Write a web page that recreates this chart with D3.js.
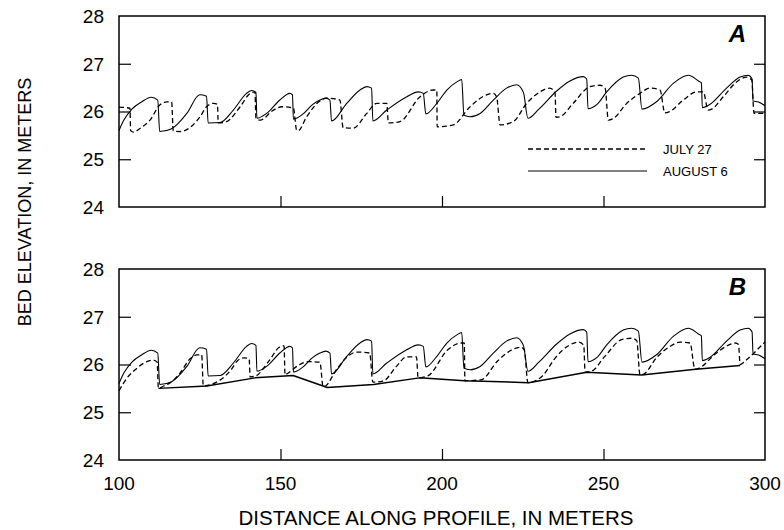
<!DOCTYPE html>
<html>
<head>
<meta charset="utf-8">
<script src="https://cdn.jsdelivr.net/npm/d3@7"></script>
<style>
  html, body { margin: 0; padding: 0; background: #fff; }
  svg { display: block; }
  text { font-family: "Liberation Sans", Arial, Helvetica, sans-serif; fill: #000; }
</style>
</head>
<body>
<svg id="chart" width="784" height="530"></svg>
<script>
// ---------------- DATA ----------------
const xTicks = [100, 150, 200, 250, 300];
const yTicks = [24, 25, 26, 27, 28];
const panelLabels = ["A", "B"];
const legendLabels = ["JULY 27", "AUGUST 6"];

// August 6 profile (solid), same survey in both panels: [distance m, elevation m]
const aug6 = [
  [100, 25.6], [101.5, 25.82], [104, 26.05], [107, 26.2], [110, 26.3], [112, 26.24], [112.6, 25.58],
  [116.3, 25.64], [121, 25.96], [125, 26.35], [127.1, 26.32], [127.6, 25.76],
  [131.3, 25.77], [135.4, 26.03], [139.5, 26.38], [141.1, 26.44], [142.4, 26.4], [142.7, 25.86],
  [145.7, 25.96], [149.8, 26.24], [152.9, 26.38], [153.7, 26.35], [154.0, 25.84],
  [157, 25.95], [160, 26.15], [162.2, 26.24], [164, 26.28], [165.3, 26.24], [165.8, 25.8],
  [170.5, 26.17], [174.6, 26.45], [176.7, 26.52], [178.2, 26.49], [178.6, 25.8],
  [182.9, 26.03], [189.1, 26.31], [192.7, 26.41], [194.2, 26.38], [195.0, 25.95],
  [198.4, 26.17], [201.5, 26.45], [204.6, 26.62], [206.1, 26.67], [206.8, 25.92],
  [208.7, 25.89], [211.8, 25.96], [215.9, 26.24], [220.0, 26.49], [223.1, 26.56], [225.2, 26.4], [226.6, 25.86],
  [230, 26.05], [235.5, 26.43], [239.6, 26.64], [243.7, 26.73], [244.8, 26.68], [245.2, 26.06],
  [248, 26.15], [251.0, 26.41], [256.1, 26.72], [258.7, 26.76], [260.8, 26.7], [261.9, 26.05],
  [266.5, 26.21], [271.6, 26.59], [276.3, 26.76], [279.4, 26.64], [280.3, 26.6], [280.6, 26.08],
  [283, 26.15], [288.1, 26.49], [292.3, 26.72], [294.8, 26.76], [296, 26.68], [296.3, 26.22], [298, 26.2], [300, 26.12]
];

// July 27 profile (dashed), panel A
const jul27A = [
  [100, 26.09], [103.4, 26.07], [103.6, 25.6], [104.5, 25.57], [106.6, 25.65], [109.6, 25.82], [112.7, 26.14], [114.8, 26.2], [116.3, 26.2], [116.8, 25.59],
  [118.9, 25.58], [125.1, 25.89], [127.1, 26.1], [129.2, 26.17], [130.5, 26.15], [130.7, 25.76],
  [133.3, 25.79], [137.5, 26.1], [140.6, 26.38], [142.1, 26.41], [142.4, 25.86],
  [143.7, 25.82], [147.8, 26.03], [150.4, 26.1], [154, 26.07], [155.0, 25.61],
  [155.5, 25.6], [158.1, 25.89], [162.2, 26.22], [164.3, 26.28], [168.4, 26.24], [169.4, 25.66],
  [172.5, 25.65], [176.7, 25.96], [179.8, 26.17], [182.9, 26.17], [183.4, 25.76],
  [187, 25.79], [193.2, 26.31], [197.3, 26.45], [198.4, 26.45], [198.5, 25.68],
  [203.5, 25.72], [208.7, 26.1], [213.8, 26.35], [215.9, 26.38], [216.9, 26.31], [218, 25.72],
  [222.1, 25.79], [226.2, 26.17], [230.3, 26.41], [233.4, 26.49], [235, 26.38], [235.3, 25.88],
  [236.5, 25.89], [240.6, 26.17], [245.8, 26.52], [248.9, 26.55], [250.5, 26.49], [251.5, 25.82],
  [253, 25.85], [257.2, 26.17], [261.3, 26.38], [264.4, 26.49], [267.5, 26.45], [269, 25.97],
  [270.5, 26.0], [274.7, 26.24], [278.9, 26.41], [280.9, 26.41], [282.4, 26.03],
  [283.5, 26.05], [287.1, 26.31], [291.2, 26.62], [294.3, 26.72], [295.9, 26.66], [296.6, 25.96], [300, 25.96]
];

// July 27 profile (dashed), panel B
const jul27B = [
  [100, 25.45], [102.4, 25.71], [105.5, 25.92], [108.6, 26.06], [110.6, 26.09], [111.8, 26.05], [112.2, 25.5],
  [113.8, 25.55], [115.9, 25.62], [118.9, 25.82], [122, 26.12], [124.1, 26.2], [125.6, 26.2], [126.1, 25.55],
  [128.5, 25.58], [134.7, 25.89], [136.7, 26.08], [138.8, 26.14], [140.3, 26.12], [140.6, 25.74],
  [142.3, 25.76], [146.5, 26.08], [149.6, 26.36], [151.1, 26.39], [151.4, 25.78],
  [151.9, 25.8], [156, 26.0], [158.6, 26.06], [162.2, 26.05], [163.2, 25.53],
  [164, 25.55], [167.3, 25.89], [171.4, 26.2], [173.5, 26.26], [177.6, 26.24], [178.6, 25.63],
  [181.7, 25.65], [185.9, 25.96], [189, 26.16], [192.1, 26.16], [192.6, 25.72],
  [195.6, 25.76], [201.8, 26.31], [205.9, 26.45], [206.9, 26.45], [207.1, 25.66],
  [212.1, 25.68], [217.3, 26.08], [222.4, 26.33], [224.5, 26.36], [225.5, 26.3], [226.6, 25.62],
  [231.1, 25.76], [235.2, 26.15], [239.3, 26.4], [242.4, 26.47], [243.9, 26.4], [244.3, 25.84],
  [246.3, 25.86], [250.4, 26.17], [255.6, 26.52], [258.7, 26.55], [260.3, 26.5], [261.3, 25.78],
  [262.5, 25.8], [266.5, 26.15], [270.6, 26.38], [273.7, 26.47], [276.8, 26.45], [278.3, 25.9],
  [279.5, 25.92], [284.6, 26.22], [288.8, 26.41], [290.8, 26.45], [291.8, 26.42], [292.3, 26.0],
  [294.3, 26.1], [298.5, 26.37], [300, 26.47]
];

// Trough line (panel B)
const troughB = [
  [112.2, 25.5], [127.2, 25.55], [142.1, 25.72], [153.9, 25.77], [164.5, 25.52], [178.8, 25.58],
  [193, 25.72], [207, 25.66], [226.8, 25.62], [244.8, 25.84], [261.8, 25.78], [278.5, 25.9], [292.3, 25.98]
];

// ---------------- LAYOUT ----------------
const svg = d3.select("#chart");
const xLeft = 119, xRight = 765;
const panels = [
  { top: 16, bottom: 207, label: panelLabels[0], series: [{ d: jul27A, dash: true }, { d: aug6, dash: false }], legend: true, xlabels: false },
  { top: 269, bottom: 460, label: panelLabels[1], series: [{ d: jul27B, dash: true }, { d: aug6, dash: false }, { d: troughB, dash: false, w: 1.5, straight: true }], legend: false, xlabels: true }
];

const x = d3.scaleLinear().domain([100, 300]).range([xLeft, xRight]);

panels.forEach(p => {
  const y = d3.scaleLinear().domain([24, 28]).range([p.bottom, p.top]);
  const g = svg.append("g");

  // lines
  p.series.forEach(s => {
    const line = d3.line().x(d => x(d[0])).y(d => y(d[1]))
      .curve(s.straight ? d3.curveLinear : d3.curveMonotoneX);
    g.append("path").datum(s.d)
      .attr("d", line)
      .attr("fill", "none")
      .attr("stroke", "#000")
      .attr("stroke-width", s.w || (s.dash ? 1.3 : 1.1))
      .attr("stroke-dasharray", s.dash ? "5,3" : null)
      .attr("stroke-linejoin", "round");
  });

  // left/right inner ticks
  const left = g.append("g").attr("transform", `translate(${xLeft},0)`)
    .call(d3.axisRight(y).tickValues(yTicks.slice(1, 4)).tickSize(12).tickFormat(""));
  left.select(".domain").remove();
  left.selectAll("line").attr("stroke", "#000").attr("stroke-width", 1.2);
  const right = g.append("g").attr("transform", `translate(${xRight},0)`)
    .call(d3.axisLeft(y).tickValues(yTicks.slice(1, 4)).tickSize(11).tickFormat(""));
  right.select(".domain").remove();
  right.selectAll("line").attr("stroke", "#000").attr("stroke-width", 1.2);

  // y tick labels
  g.selectAll("text.ylab").data(yTicks).enter().append("text")
    .attr("class", "ylab")
    .attr("x", xLeft - 15).attr("y", d => y(d))
    .attr("dy", "0.36em")
    .attr("text-anchor", "end")
    .style("font-size", "19px")
    .text(d => d);

  // bottom inner ticks
  const bot = g.append("g").attr("transform", `translate(0,${p.bottom})`)
    .call(d3.axisTop(x).tickValues(xTicks.slice(1, 4)).tickSize(11).tickFormat(""));
  bot.select(".domain").remove();
  bot.selectAll("line").attr("stroke", "#000").attr("stroke-width", 1.2);

  // frame
  g.append("rect")
    .attr("x", xLeft).attr("y", p.top)
    .attr("width", xRight - xLeft).attr("height", p.bottom - p.top)
    .attr("fill", "none").attr("stroke", "#000").attr("stroke-width", 1.5);

  // panel label
  g.append("text")
    .attr("x", xRight - 19).attr("y", p.top + 26)
    .attr("text-anchor", "end")
    .style("font-size", "24px").style("font-weight", "bold").style("font-style", "italic")
    .text(p.label);

  if (p.xlabels) {
    g.selectAll("text.xlab").data(xTicks).enter().append("text")
      .attr("class", "xlab")
      .attr("x", d => x(d)).attr("y", p.bottom + 30)
      .attr("text-anchor", "middle")
      .style("font-size", "19px")
      .text(d => d);
  }

  if (p.legend) {
    const lx0 = 528, lx1 = 647;
    const ly = [149, 171];
    [true, false].forEach((dash, i) => {
      g.append("line").attr("x1", lx0).attr("x2", lx1).attr("y1", ly[i]).attr("y2", ly[i])
        .attr("stroke", "#000").attr("stroke-width", dash ? 1.3 : 1)
        .attr("stroke-dasharray", dash ? "5,3" : null);
      g.append("text").attr("x", 663).attr("y", ly[i]).attr("dy", "0.36em")
        .style("font-size", "13px").text(legendLabels[i]);
    });
  }
});

// axis titles
svg.append("text")
  .attr("transform", `translate(25,202) rotate(-90)`)
  .attr("text-anchor", "middle")
  .attr("dy", "0.36em")
  .style("font-size", "18px")
  .text("BED ELEVATION, IN METERS");

svg.append("text")
  .attr("x", 436).attr("y", 518)
  .attr("text-anchor", "middle")
  .attr("dy", "0.36em")
  .style("font-size", "20.5px")
  .text("DISTANCE ALONG PROFILE, IN METERS");
</script>
</body>
</html>
